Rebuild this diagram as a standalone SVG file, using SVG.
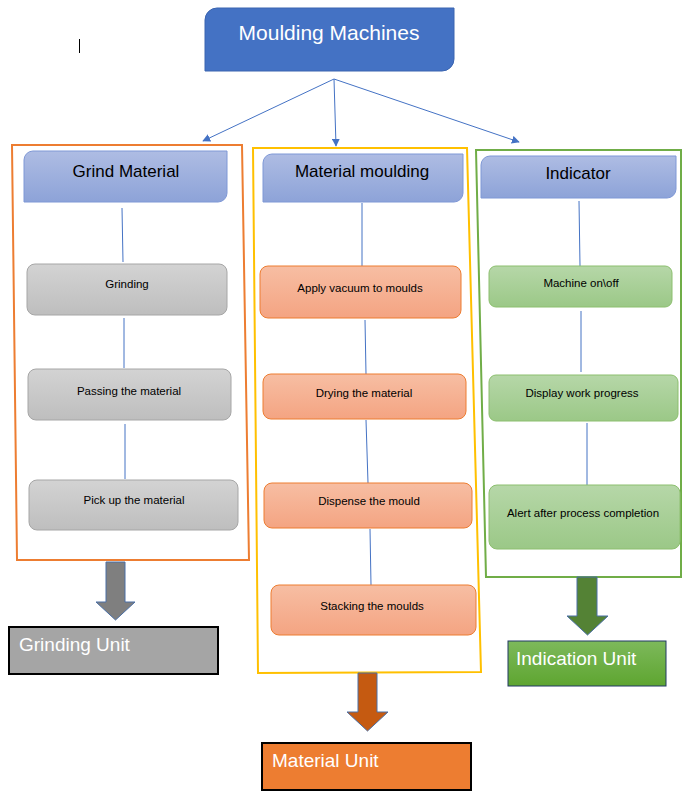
<svg xmlns="http://www.w3.org/2000/svg" width="687" height="800" viewBox="0 0 687 800">
<defs>
<linearGradient id="gHead" x1="0" y1="0" x2="0" y2="1"><stop offset="0" stop-color="#AEBCE3"/><stop offset="1" stop-color="#8DA3D8"/></linearGradient>
<linearGradient id="gGray" x1="0" y1="0" x2="0" y2="1"><stop offset="0" stop-color="#D3D3D3"/><stop offset="1" stop-color="#BEBEBE"/></linearGradient>
<linearGradient id="gOr" x1="0" y1="0" x2="0" y2="1"><stop offset="0" stop-color="#F7BEA3"/><stop offset="1" stop-color="#F4A482"/></linearGradient>
<linearGradient id="gGr" x1="0" y1="0" x2="0" y2="1"><stop offset="0" stop-color="#B6D7A8"/><stop offset="1" stop-color="#9BC887"/></linearGradient>
<linearGradient id="gInd" x1="0" y1="0" x2="0" y2="1"><stop offset="0" stop-color="#7DB95B"/><stop offset="1" stop-color="#5EA530"/></linearGradient>
<marker id="ah" viewBox="0 0 10 10" refX="9" refY="5" markerWidth="8" markerHeight="8" markerUnits="userSpaceOnUse" orient="auto"><path d="M0,0 L10,5 L0,10 z" fill="#4472C4"/></marker>
</defs>
<style>
.t{font-family:"Liberation Sans",Arial,sans-serif;}
.big{font-size:21px;fill:#FFFFFF;}
.hd{font-size:17px;fill:#000000;}
.sm{font-size:11.5px;fill:#000000;}
.unit{font-size:19px;fill:#FFFFFF;}
.head{fill:url(#gHead);stroke:#7F98D6;stroke-width:1;}
.gray{fill:url(#gGray);stroke:#A6A6A6;stroke-width:1;}
.or{fill:url(#gOr);stroke:#ED7D31;stroke-width:1;}
.gr{fill:url(#gGr);stroke:#8CBF6E;stroke-width:1;}
.ln{stroke:#4472C4;stroke-width:1;fill:none;}
.ar{stroke:#4472C4;stroke-width:1;fill:none;marker-end:url(#ah);}
.blk{stroke:#4A6FA5;stroke-width:1;}
</style>

<line x1="79.5" y1="39" x2="79.5" y2="53" stroke="#000" stroke-width="1"/>

<g id="containers" fill="none" stroke-width="2">
<polygon id="grind-group" points="12,145 242,145 249,560 17,560" stroke="#ED7D31"/>
<polygon id="material-group" points="253,148 467,148 481,672 258,673" stroke="#FFC000"/>
<polygon id="indicator-group" points="476,150 681,150 681,577 486,577" stroke="#70AD47"/>
</g>

<g id="connectors">
<line class="ar" x1="334" y1="79" x2="203" y2="141"/>
<line class="ar" x1="334" y1="79" x2="336" y2="146"/>
<line class="ar" x1="334" y1="79" x2="519" y2="142"/>
<line class="ln" x1="122" y1="208" x2="123" y2="262"/>
<line class="ln" x1="124" y1="318" x2="124" y2="368"/>
<line class="ln" x1="125" y1="424" x2="125" y2="479"/>
<line class="ln" x1="362" y1="203" x2="362" y2="266"/>
<line class="ln" x1="365" y1="320" x2="366" y2="374"/>
<line class="ln" x1="366" y1="420" x2="368" y2="483"/>
<line class="ln" x1="370" y1="529" x2="371" y2="585"/>
<line class="ln" x1="579" y1="201" x2="580" y2="266"/>
<line class="ln" x1="581" y1="311" x2="581" y2="372"/>
<line class="ln" x1="587" y1="423" x2="587" y2="486"/>
</g>

<g id="moulding-machines">
<path d="M205,20 A12,12 0 0 1 217,8 H454 V59 A12,12 0 0 1 442,71 H205 Z" fill="#4472C4" stroke="#3A64B0" stroke-width="1"/>
<text class="t big" x="329" y="40" text-anchor="middle">Moulding Machines</text>
</g>

<g id="grind-material">
<path class="head" d="M24,160 A9,9 0 0 1 33,151 H227 V193 A9,9 0 0 1 218,202 H24 Z"/>
<text class="t hd" x="126" y="177" text-anchor="middle">Grind Material</text>
</g>
<g id="material-moulding">
<path class="head" d="M263,163 A9,9 0 0 1 272,154 H463 V193 A9,9 0 0 1 454,202 H263 Z"/>
<text class="t hd" x="362" y="177" text-anchor="middle">Material moulding</text>
</g>
<g id="indicator">
<path class="head" d="M481,165 A9,9 0 0 1 490,156 H676 V189 A9,9 0 0 1 667,198 H481 Z"/>
<text class="t hd" x="578" y="179" text-anchor="middle">Indicator</text>
</g>

<g id="grinding"><rect class="gray" x="27" y="264" width="200" height="51" rx="8"/><text class="t sm" x="127" y="288" text-anchor="middle">Grinding</text></g>
<g id="passing"><rect class="gray" x="28" y="369" width="203" height="51" rx="8"/><text class="t sm" x="129" y="395" text-anchor="middle">Passing the material</text></g>
<g id="pickup"><rect class="gray" x="29" y="480" width="209" height="50" rx="8"/><text class="t sm" x="134" y="504" text-anchor="middle">Pick up the material</text></g>

<g id="vacuum"><rect class="or" x="260" y="266" width="201" height="52" rx="8"/><text class="t sm" x="360" y="292" text-anchor="middle">Apply vacuum to moulds</text></g>
<g id="drying"><rect class="or" x="263" y="374" width="203" height="45" rx="8"/><text class="t sm" x="364" y="397" text-anchor="middle">Drying the material</text></g>
<g id="dispense"><rect class="or" x="264" y="483" width="208" height="45" rx="8"/><text class="t sm" x="369" y="505" text-anchor="middle">Dispense the mould</text></g>
<g id="stacking"><rect class="or" x="271" y="585" width="205" height="50" rx="8"/><text class="t sm" x="372" y="610" text-anchor="middle">Stacking the moulds</text></g>

<g id="machine-onoff"><rect class="gr" x="489" y="266" width="183" height="41" rx="7"/><text class="t sm" x="581" y="287" text-anchor="middle">Machine on\off</text></g>
<g id="display-progress"><rect class="gr" x="489" y="375" width="189" height="46" rx="7"/><text class="t sm" x="582" y="397" text-anchor="middle">Display work progress</text></g>
<g id="alert"><rect class="gr" x="489" y="485" width="191" height="64" rx="8"/><text class="t sm" x="583" y="517" text-anchor="middle">Alert after process completion</text></g>

<g id="block-arrows">
<polygon class="blk" points="106,562 125,562 125,602 135,602 115.5,620 96,602 106,602" fill="#7F7F7F"/>
<polygon class="blk" points="358,673 377,673 377,712 388,712 367.5,731 347,712 358,712" fill="#C55A11"/>
<polygon class="blk" points="577,577 597,577 597,616 608,616 587.5,635 567,616 577,616" fill="#548235"/>
</g>

<g id="grinding-unit"><rect x="9" y="627" width="209" height="47" fill="#A5A5A5" stroke="#000" stroke-width="2"/><text class="t unit" x="19" y="651">Grinding Unit</text></g>
<g id="material-unit"><rect x="262" y="743" width="209" height="47" fill="#ED7D31" stroke="#000" stroke-width="2"/><text class="t unit" x="272" y="767">Material Unit</text></g>
<g id="indication-unit"><rect x="508" y="641" width="158" height="45" fill="url(#gInd)" stroke="#203864" stroke-width="1"/><text class="t unit" x="516" y="665">Indication Unit</text></g>
</svg>
